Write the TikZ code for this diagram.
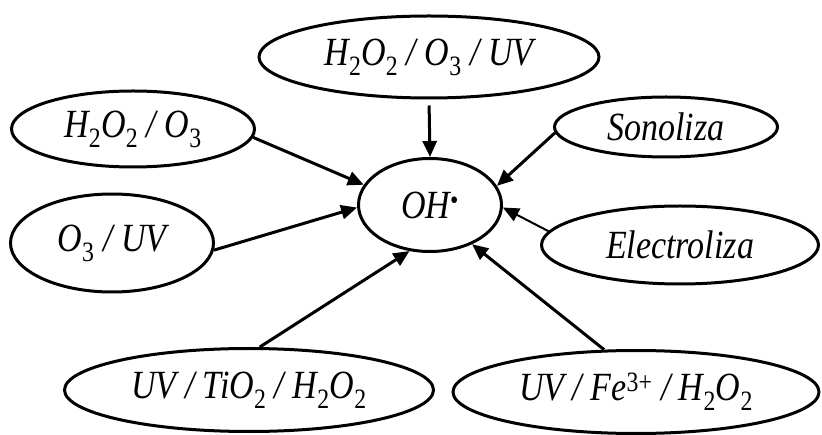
\documentclass[tikz,border=0pt]{standalone}
\usepackage{fontspec}
\setmainfont{Liberation Serif}[FakeStretch=0.85]
\usetikzlibrary{shapes.geometric,arrows.meta}
\begin{document}
\begin{tikzpicture}[x=1pt,y=-1pt,
  el/.style={ellipse,draw,line width=3pt,inner sep=0pt,font=\fontsize{40}{48}\selectfont\itshape},
  arr/.style={line width=3pt,-{Triangle[length=16pt,width=14pt]}}]
\useasboundingbox (0,0) rectangle (822,435);
\node[el,minimum width=340pt,minimum height=82pt] (top) at (429,57) {H\textsubscript{\upshape 2}O\textsubscript{\upshape 2} / O\textsubscript{\upshape 3} / UV};
\node[el,minimum width=243pt,minimum height=76pt] (ho) at (133,129) {H\textsubscript{\upshape 2}O\textsubscript{\upshape 2} / O\textsubscript{\upshape 3}};
\node[el,minimum width=223pt,minimum height=60pt] (son) at (666,127) {Sonoliza};
\node[el,minimum width=143pt,minimum height=93pt] (oh) at (430,205) {OH\textsuperscript{\upshape •}};
\node[el,minimum width=203pt,minimum height=98pt] (ouv) at (112,243) {O\textsubscript{\upshape 3} / UV};
\node[el,minimum width=277pt,minimum height=78pt] (ele) at (680,245) {Electroliza};
\node[el,minimum width=369pt,minimum height=83pt] (ti) at (249,390) {UV / TiO\textsubscript{\upshape 2} / H\textsubscript{\upshape 2}O\textsubscript{\upshape 2}};
\node[el,minimum width=366pt,minimum height=83pt] (fe) at (636,392) {UV / Fe\textsuperscript{\upshape 3+} / H\textsubscript{\upshape 2}O\textsubscript{\upshape 2}};
\draw[arr,shorten <=6pt] (top.270) -- (oh.90);
\draw[arr] (ho.-4) -- (oh.163);
\draw[arr] (son.183) -- (oh.16);
\draw[arr] (ouv.-4) -- (oh.182);
\draw[arr,line width=2pt] (ele.174) -- (oh.-2);
\draw[arr] (ti.76) -- (oh.246);
\draw[arr] (fe.127) -- (oh.-43);
\end{tikzpicture}
\end{document}
